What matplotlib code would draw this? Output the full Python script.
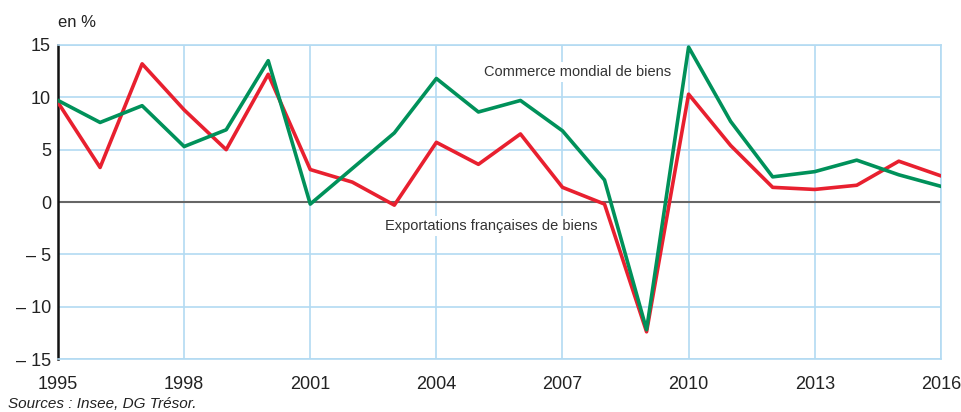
import matplotlib.pyplot as plt

plt.rcParams['font.family'] = ['Liberation Sans Narrow', 'Liberation Sans', 'DejaVu Sans']

# Données
annees = list(range(1995, 2017))
exportations = [9.5, 3.3, 13.2, 8.8, 5.0, 12.2, 3.1, 1.9, -0.3, 5.7, 3.6, 6.5,
                1.4, -0.2, -12.4, 10.3, 5.4, 1.4, 1.2, 1.6, 3.9, 2.5]
commerce = [9.7, 7.6, 9.2, 5.3, 6.9, 13.5, -0.2, 3.2, 6.6, 11.8, 8.6, 9.7,
            6.8, 2.1, -12.2, 14.8, 7.7, 2.4, 2.9, 4.0, 2.6, 1.5]
xticks = [1995, 1998, 2001, 2004, 2007, 2010, 2013, 2016]
yticks = [-15, -10, -5, 0, 5, 10, 15]
ylabels = ['– 15', '– 10', '– 5', '0', '5', '10', '15']

rouge = '#e8202f'
vert = '#00915a'
bleu = '#b3daf2'

fig = plt.figure(figsize=(9.61, 4.12), dpi=100)
ax = fig.add_axes([0.0604, 0.1286, 0.9186, 0.7622])

ax.set_xlim(1995, 2016)
ax.set_ylim(-15, 15)
ax.set_xticks(xticks)
ax.set_yticks(yticks)
ax.set_yticklabels(ylabels)
ax.grid(True, color=bleu, linewidth=1.2)
ax.set_axisbelow(True)
ax.tick_params(length=0, labelsize=13, colors='#222222', pad=5)
ax.tick_params(axis='x', pad=12)

for s in ['top', 'right', 'bottom']:
    ax.spines[s].set_color(bleu)
    ax.spines[s].set_linewidth(1.2)
ax.spines['left'].set_color('#111111')
ax.spines['left'].set_linewidth(1.8)

ax.axhline(0, color='#666666', linewidth=1.5, zorder=2)

ax.plot(annees, exportations, color=rouge, linewidth=2.6, zorder=3)
ax.plot(annees, commerce, color=vert, linewidth=2.6, zorder=4)

ax.text(2007.35, 12.4, 'Commerce mondial de biens', fontsize=10.5, color='#333333',
        ha='center', va='center', zorder=5,
        bbox=dict(facecolor='white', edgecolor='none', pad=2))
ax.text(2005.3, -2.3, 'Exportations françaises de biens', fontsize=10.5, color='#333333',
        ha='center', va='center', zorder=5,
        bbox=dict(facecolor='white', edgecolor='none', pad=2))

fig.text(0.0604, 0.945, 'en %', fontsize=12, color='#222222', ha='left', va='center')
fig.text(0.008, 0.02, 'Sources : Insee, DG Trésor.', fontsize=11, style='italic',
         color='#222222', ha='left', va='center')

fig.savefig('out.png', dpi=100)
